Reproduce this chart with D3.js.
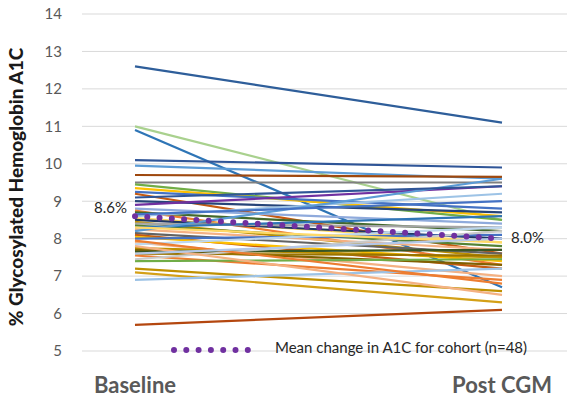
<!DOCTYPE html>
<html><head><meta charset="utf-8">
<script src="https://cdn.jsdelivr.net/npm/d3@7"></script>
<style>body{margin:0;background:#fff;}svg{display:block;}</style>
</head><body>
<svg id="c" width="572" height="401"></svg>
<script>
const timepoints = ["Baseline", "Post CGM"];
const baseline = [12.6,11.0,10.9,10.1,9.95,9.7,9.5,9.45,9.35,9.25,9.2,9.0,8.9,8.8,8.75,8.7,8.6,8.55,8.5,8.45,8.4,8.35,8.3,8.25,8.2,8.15,8.1,8.05,8.0,7.9,7.85,7.75,7.7,7.65,7.6,7.55,7.4,7.45,7.2,7.1,6.9,5.7,9.1,8.65,7.95,7.8,8.3,7.6];
const postCGM  = [11.1,8.5,6.7,9.9,9.6,9.65,9.5,8.5,8.6,8.8,7.6,8.7,9.4,8.4,7.3,8.2,9.2,7.9,8.0,7.5,8.3,7.8,8.6,7.7,9.6,7.6,7.2,7.4,8.1,7.0,8.3,7.5,7.3,7.7,7.55,6.9,7.45,8.2,6.6,6.3,7.2,6.1,9.4,9.0,6.8,6.5,7.9,8.0];
const lineColors = ["#2E5E9A","#A9D18E","#2E75B6","#2F5597","#5B9BD5","#9E480E","#7F7F7F","#70AD47","#FFC000","#4472C4","#C55A11","#264478","#7030A0","#8FAADC","#ED7D31","#43682B","#9DC3E6","#FFD966","#1F3864","#BF9000","#A5A5A5","#548235","#2E75B6","#F4B183","#5B9BD5","#636363","#C55A11","#FFC000","#4472C4","#F4B183","#BDD7EE","#BF9000","#806000","#375623","#997300","#ED7D31","#70AD47","#C9C9C9","#BF9000","#D4A017","#9DC3E6","#B4470F","#2F5597","#4472C4","#ED7D31","#F4B183","#FFD966","#B4C7E7"];
const meanValues = [8.6, 8.0];
const meanLabels = ["8.6%", "8.0%"];
const yTicks = [5,6,7,8,9,10,11,12,13,14];
const yTitle = "% Glycosylated Hemoglobin A1C";
const legendLabel = "Mean change in A1C for cohort (n=48)";

const svg = d3.select("#c");
const x = d3.scalePoint().domain(timepoints).range([135, 502]);
const y = d3.scaleLinear().domain([5, 14]).range([351, 14]);
const font = "Lato, 'Open Sans', sans-serif";

// gridlines
svg.append("g").selectAll("line").data(yTicks).join("line")
  .attr("x1", 82).attr("x2", 567)
  .attr("y1", d => y(d)).attr("y2", d => y(d))
  .attr("stroke", "#d9d9d9").attr("stroke-width", 1);

// y axis labels
const yAxis = d3.axisLeft(y).tickValues(yTicks).tickSize(0).tickPadding(0);
const ga = svg.append("g").attr("transform", "translate(62,0)").call(yAxis);
ga.select(".domain").remove();
ga.selectAll("text").attr("font-family", font).attr("font-size", 15).attr("fill", "#595959");

// y title
svg.append("text").attr("transform", "translate(23,187) rotate(-90)")
  .attr("text-anchor", "middle").attr("font-family", font).attr("font-weight", "900")
  .attr("font-size", 19).attr("fill", "#1a1a1a").text(yTitle);

// patient lines
const data = baseline.map((b, i) => ({b, p: postCGM[i], c: lineColors[i]}));
const lineGen = d3.line().x(d => x(d[0])).y(d => y(d[1]));
svg.append("g").selectAll("path").data(data).join("path")
  .attr("d", d => lineGen([[timepoints[0], d.b], [timepoints[1], d.p]]))
  .attr("stroke", d => d.c).attr("stroke-width", 2.2).attr("fill", "none");

// mean line
svg.append("path")
  .attr("d", lineGen(timepoints.map((t, i) => [t, meanValues[i]])))
  .attr("stroke", "#7030A0").attr("stroke-width", 6).attr("stroke-linecap", "round")
  .attr("stroke-dasharray", "0 12.3").attr("fill", "none");

// mean labels
svg.append("text").attr("x", x(timepoints[0]) - 8).attr("y", y(meanValues[0]) - 3)
  .attr("text-anchor", "end").attr("font-family", font).attr("font-size", 15)
  .attr("fill", "#262626").text(meanLabels[0]);
svg.append("text").attr("x", x(timepoints[1]) + 9).attr("y", y(meanValues[1]) + 4)
  .attr("text-anchor", "start").attr("font-family", font).attr("font-size", 15)
  .attr("fill", "#262626").text(meanLabels[1]);

// legend
svg.append("line").attr("x1", 174).attr("x2", 248).attr("y1", 350).attr("y2", 350)
  .attr("stroke", "#7030A0").attr("stroke-width", 6).attr("stroke-linecap", "round")
  .attr("stroke-dasharray", "0 12.3");
svg.append("text").attr("x", 275).attr("y", 353).attr("font-family", font)
  .attr("font-size", 15).attr("fill", "#262626").text(legendLabel);

// x labels
svg.append("g").selectAll("text").data(timepoints).join("text")
  .attr("x", d => x(d)).attr("y", 393).attr("text-anchor", "middle")
  .attr("font-family", font).attr("font-weight", "bold").attr("font-size", 22)
  .attr("fill", "#595959").text(d => d);
</script>
</body></html>
